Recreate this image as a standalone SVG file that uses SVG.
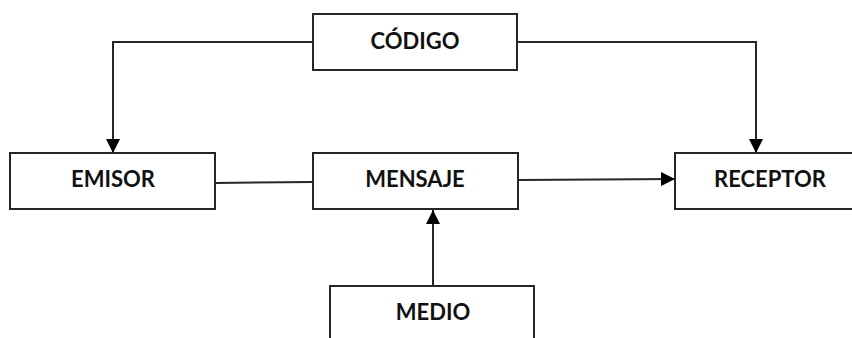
<svg xmlns="http://www.w3.org/2000/svg" width="852" height="338" viewBox="0 0 852 338">
  <style>
    .box { fill: #ffffff; stroke: #262626; stroke-width: 2; }
    .label { font-family: "Lato", "Open Sans", "Liberation Sans", sans-serif; font-weight: bold; font-size: 22px; fill: #111111; text-anchor: middle; }
    .link { fill: none; stroke: #262626; stroke-width: 2; }
  </style>
  <defs>
    <marker id="arrowBig" viewBox="0 0 10 10" refX="10" refY="5" markerWidth="14" markerHeight="14" markerUnits="userSpaceOnUse" orient="auto">
      <path d="M0,0 L10,5 L0,10 Z" fill="#000000"/>
    </marker>
  </defs>
  <rect width="852" height="338" fill="#ffffff"/>

  <g id="connectors">
    <!-- código to emisor -->
    <polyline class="link" points="313,42 113,42 113,153" marker-end="url(#arrowBig)"/>
    <!-- código to receptor -->
    <polyline class="link" points="517,42 756,42 756,153" marker-end="url(#arrowBig)"/>
    <!-- emisor to mensaje -->
    <line class="link" x1="215" y1="183" x2="313" y2="182"/>
    <!-- mensaje to receptor -->
    <line class="link" x1="518" y1="180" x2="675" y2="179" marker-end="url(#arrowBig)"/>
    <!-- medio to mensaje -->
    <line class="link" x1="433" y1="286" x2="433" y2="210" marker-end="url(#arrowBig)"/>
  </g>

  <g id="codigo">
    <rect class="box" x="313" y="14" width="204" height="56"/>
    <text class="label" x="415" y="49">CÓDIGO</text>
  </g>
  <g id="emisor">
    <rect class="box" x="10" y="153" width="205" height="56"/>
    <text class="label" x="113" y="187">EMISOR</text>
  </g>
  <g id="mensaje">
    <rect class="box" x="313" y="153" width="205" height="56"/>
    <text class="label" x="415" y="187">MENSAJE</text>
  </g>
  <g id="receptor">
    <rect class="box" x="675" y="153" width="200" height="56"/>
    <text class="label" x="770" y="187">RECEPTOR</text>
  </g>
  <g id="medio">
    <rect class="box" x="330" y="286" width="204" height="70"/>
    <text class="label" x="433" y="320">MEDIO</text>
  </g>
</svg>
